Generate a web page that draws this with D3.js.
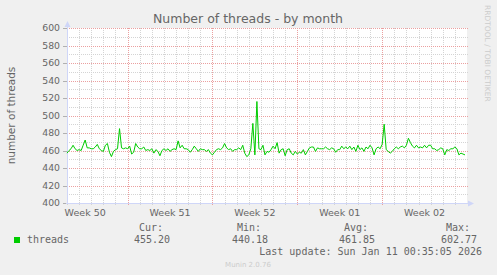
<!DOCTYPE html>
<html>
<head>
<meta charset="utf-8">
<script src="https://cdn.jsdelivr.net/npm/d3@7"></script>
<style>
  body { margin: 0; background: #F0F0F0; }
  svg { display: block; }
  text { fill: #666666; }
</style>
</head>
<body>
<svg id="chart"></svg>
<script>
// thread count, 4-hour averages starting 2025-12-10 00:00 UTC
const threadValues = [
  457, 460, 462, 466, 462, 460, 461, 460, 466, 472,
  463, 463, 462, 462, 464, 467, 462, 460, 459, 466,
  468, 458, 453, 459, 461, 462, 485, 463, 462, 463,
  462, 465, 456, 458, 468, 464, 462, 462, 464, 460,
  461, 460, 462, 457, 461, 459, 454, 460, 462, 460,
  462, 459, 461, 462, 461, 471, 463, 466, 462, 462,
  461, 458, 461, 465, 462, 459, 462, 461, 461, 459,
  461, 457, 455, 458, 461, 462, 461, 463, 468, 463,
  461, 462, 459, 461, 461, 463, 461, 466, 457, 453,
  455, 462, 491, 455, 516, 462, 461, 466, 455, 459,
  458, 461, 465, 462, 469, 457, 461, 462, 454, 461,
  462, 457, 455, 459, 456, 458, 457, 461, 455, 459,
  463, 464, 464, 459, 463, 462, 462, 462, 464, 462,
  461, 463, 462, 458, 461, 461, 465, 462, 464, 462,
  465, 461, 464, 459, 466, 461, 463, 459, 464, 462,
  466, 463, 455, 462, 464, 462, 467, 490, 461, 459,
  457, 459, 462, 464, 462, 464, 465, 463, 466, 474,
  469, 465, 463, 466, 463, 464, 463, 466, 463, 466,
  466, 462, 462, 460, 461, 463, 462, 455, 461, 460,
  462, 462, 464, 462, 455, 457, 456, 455
];
const yTicks = [400, 420, 440, 460, 480, 500, 520, 540, 560, 580, 600];
const yMinorTicks = [410, 430, 450, 470, 490, 510, 530, 550, 570, 590];
const statLabels = ["Cur:", "Min:", "Avg:", "Max:"];
const statValues = ["455.20", "440.18", "461.85", "602.77"];
const seriesName = "threads";
const titleText = "Number of threads - by month";
const yLabel = "number of threads";
const lastUpdate = "Last update: Sun Jan 11 00:35:05 2026";

const width = 497, height = 275;
const plotLeft = 67, plotRight = 467, plotTop = 28, plotBottom = 203;
const t0 = new Date(Date.UTC(2025, 11, 10));
const t1 = new Date(Date.UTC(2026, 0, 12));
const stepMs = 4 * 3600 * 1000;
const dayMs = 864e5;

const data = threadValues.map((v, i) => ({ t: new Date(t0.getTime() + i * stepMs), v }));

const svg = d3.select("#chart").attr("width", width).attr("height", height);
svg.append("rect").attr("width", width).attr("height", height).attr("fill", "#F0F0F0");

const x = d3.scaleUtc().domain([t0, t1]).range([plotLeft, plotRight]);
const y = d3.scaleLinear().domain([400, 600]).range([plotBottom, plotTop]);

svg.append("rect")
  .attr("x", plotLeft).attr("y", plotTop)
  .attr("width", plotRight - plotLeft).attr("height", plotBottom - plotTop)
  .attr("fill", "#FFFFFF");

const days = d3.utcDay.range(d3.utcDay.ceil(t0), t1);
const weeks = d3.utcMonday.range(t0, t1);
const isWeek = d => d.getUTCDay() === 1;
const px = v => Math.round(v) + 0.5;

// minor grid
const grid = svg.append("g").attr("shape-rendering", "crispEdges");
grid.selectAll(".vmin").data(days.filter(d => !isWeek(d))).enter().append("line")
  .attr("x1", d => px(x(d))).attr("x2", d => px(x(d)))
  .attr("y1", plotTop).attr("y2", plotBottom + 2)
  .attr("stroke", "#D4D4D4").attr("stroke-dasharray", "1,1");
grid.selectAll(".hmin").data(yMinorTicks).enter().append("line")
  .attr("x1", plotLeft).attr("x2", plotRight + 2)
  .attr("y1", d => px(y(d))).attr("y2", d => px(y(d)))
  .attr("stroke", "#D4D4D4").attr("stroke-dasharray", "1,1");

// major grid
grid.selectAll(".vmaj").data(weeks).enter().append("line")
  .attr("x1", d => px(x(d))).attr("x2", d => px(x(d)))
  .attr("y1", plotTop).attr("y2", plotBottom + 2)
  .attr("stroke", "#EBA0A0").attr("stroke-dasharray", "1,1");
grid.selectAll(".hmaj").data(yTicks).enter().append("line")
  .attr("x1", plotLeft).attr("x2", plotRight + 2)
  .attr("y1", d => px(y(d))).attr("y2", d => px(y(d)))
  .attr("stroke", "#EBA0A0").attr("stroke-dasharray", "1,1");
grid.selectAll(".ytick").data(yTicks).enter().append("line")
  .attr("x1", plotLeft - 4).attr("x2", plotLeft)
  .attr("y1", d => px(y(d))).attr("y2", d => px(y(d)))
  .attr("stroke", "#B0B0B0");

// axes
svg.append("line").attr("x1", plotLeft + 0.5).attr("x2", plotLeft + 0.5)
  .attr("y1", plotBottom + 1).attr("y2", plotTop - 2).attr("stroke", "#CFD6F8");
svg.append("line").attr("x1", plotLeft - 1).attr("x2", plotRight + 2)
  .attr("y1", plotBottom + 0.5).attr("y2", plotBottom + 0.5).attr("stroke", "#CFD6F8");
svg.append("path").attr("d", `M${plotLeft - 2.5},${plotTop - 1}L${plotLeft + 3.5},${plotTop - 1}L${plotLeft + 0.5},${plotTop - 7}Z`)
  .attr("fill", "#CFD6F8");
svg.append("path").attr("d", `M${plotRight + 1},${plotBottom - 2.5}L${plotRight + 1},${plotBottom + 3.5}L${plotRight + 7},${plotBottom + 0.5}Z`)
  .attr("fill", "#CFD6F8");

// series
svg.append("path").datum(data)
  .attr("fill", "none").attr("stroke", "#00CC00").attr("stroke-width", 1)
  .attr("d", d3.line().x(d => x(d.t)).y(d => y(d.v)));

// y labels
svg.selectAll(".ylab").data(yTicks).enter().append("text")
  .attr("x", 60).attr("y", d => y(d) + 3.3)
  .attr("text-anchor", "end")
  .attr("font-family", "DejaVu Sans").attr("font-size", "9.3px")
  .text(d => d);

// week labels, centred in each week
const weekFmt = d3.utcFormat("%V");
const weekStarts = [new Date(weeks[0].getTime() - 7 * dayMs)].concat(weeks)
  .filter(d => x(new Date(d.getTime() + 3.5 * dayMs)) > plotLeft + 10);
svg.selectAll(".xlab").data(weekStarts).enter().append("text")
  .attr("x", d => x(new Date(d.getTime() + 3.5 * dayMs)))
  .attr("y", 216)
  .attr("text-anchor", "middle")
  .attr("font-family", "DejaVu Sans").attr("font-size", "9.5px")
  .text(d => "Week " + weekFmt(d));

// title and y axis label
svg.append("text").attr("x", 248).attr("y", 23).attr("text-anchor", "middle")
  .attr("font-family", "DejaVu Sans").attr("font-size", "12.5px").text(titleText);
svg.append("text").attr("transform", `translate(15,${(plotTop + plotBottom) / 2}) rotate(-90)`)
  .attr("text-anchor", "middle")
  .attr("font-family", "DejaVu Sans").attr("font-size", "10.5px").text(yLabel);
svg.append("text").attr("transform", "translate(485,5) rotate(90)")
  .attr("font-family", "DejaVu Sans").attr("font-size", "7.5px")
  .style("fill", "#CCCCCC").text("RRDTOOL / TOBI OETIKER");

// legend
const legend = svg.append("g").attr("font-family", "DejaVu Sans Mono").attr("font-size", "10px");
legend.append("rect").attr("x", 14).attr("y", 237).attr("width", 6).attr("height", 6).attr("fill", "#00CC00");
legend.append("text").attr("x", 27).attr("y", 243).text(seriesName);
const statRight = [170, 268, 375, 477];
legend.selectAll(".sl").data(statLabels).enter().append("text")
  .attr("x", (d, i) => statRight[i] - 7).attr("y", 231).attr("text-anchor", "end").text(d => d);
legend.selectAll(".sv").data(statValues).enter().append("text")
  .attr("x", (d, i) => statRight[i]).attr("y", 243).attr("text-anchor", "end").text(d => d);
legend.append("text").attr("x", 482).attr("y", 255).attr("text-anchor", "end").text(lastUpdate);

svg.append("text").attr("x", 248).attr("y", 267).attr("text-anchor", "middle")
  .attr("font-family", "DejaVu Sans").attr("font-size", "7px")
  .style("fill", "#CCCCCC").text("Munin 2.0.76");
</script>
</body>
</html>
